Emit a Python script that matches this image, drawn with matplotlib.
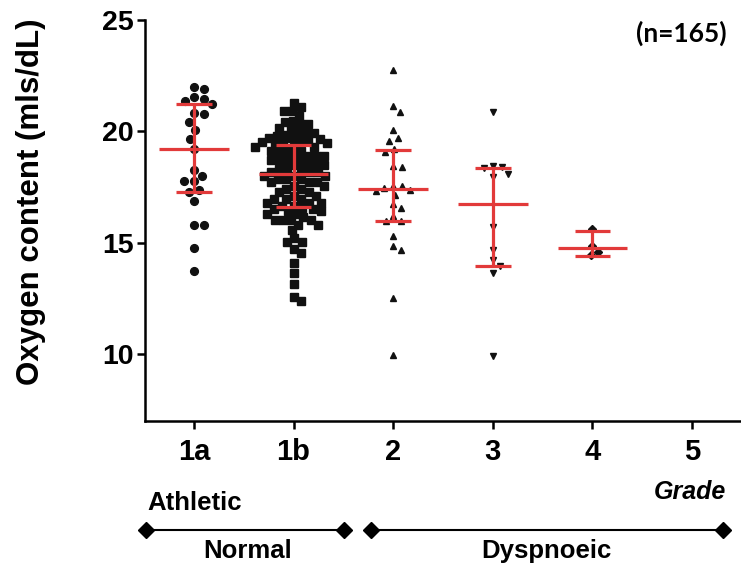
import numpy as np
import matplotlib
matplotlib.use('agg')
import matplotlib.pyplot as plt
from matplotlib.lines import Line2D

plt.rcParams['font.family'] = ['Liberation Sans', 'DejaVu Sans']
plt.rcParams['font.weight'] = 'bold'

W, H = 741, 566

# values
grades = ['1a', '1b', '2', '3', '4', '5']
grade_1a = [22.0, 21.9, 21.55, 21.45, 21.35, 21.2, 20.8, 20.75, 20.4, 20.05, 19.65,
            19.2, 18.25, 18.0, 17.75, 17.75, 17.25, 17.35, 16.85, 15.8, 15.8, 14.75, 13.75]
grade_1b = [21.25, 21.1, 20.9, 20.9, 20.7, 20.45, 20.4, 20.3, 20.3, 20.15, 20.1, 19.95,
            19.9, 19.9, 19.85, 19.8, 19.7, 19.7, 19.65, 19.6, 19.55, 19.5, 19.5, 19.45, 19.45,
            19.3, 19.3, 19.3, 19.1, 19.1, 19.1, 19.1, 18.9, 18.9, 18.9, 18.9,
            18.7, 18.7, 18.7, 18.7, 18.5, 18.5, 18.5, 18.5, 18.3, 18.3, 18.3, 18.15, 18.15, 18.15,
            18.0, 18.0, 18.0, 17.85, 17.85, 17.85, 17.7, 17.7, 17.7, 17.55, 17.55, 17.4, 17.4,
            17.25, 17.25, 17.1, 17.1, 16.95, 16.95, 16.95, 16.8, 16.8, 16.8, 16.65, 16.65,
            16.55, 16.5, 16.5, 16.4, 16.4, 16.3, 16.3, 16.15, 16.0, 16.0, 16.0, 16.0,
            15.8, 15.8, 15.55, 15.2, 15.05, 15.05, 14.7, 14.55, 14.1, 13.65, 13.15, 12.55, 12.4]
grade_2 = [22.75, 21.15, 20.85, 20.05, 19.7, 19.55, 19.2, 19.05, 18.45, 18.4, 17.55, 17.55,
           17.45, 17.35, 17.3, 17.15, 16.75, 16.55, 16.2, 15.95, 15.95, 15.3, 14.85, 14.65,
           12.5, 9.95]
grade_3 = [20.85, 18.45, 18.4, 18.35, 18.1, 17.95, 15.7, 14.65, 14.2, 13.95, 13.65, 9.9]
grade_4 = [15.6, 14.85, 14.6, 14.45]
medians = [19.2, 18.1, 17.4, 16.75, 14.75]
q1 = [17.25, 16.6, 15.95, 13.95, 14.4]
q3 = [21.2, 19.4, 19.15, 18.35, 15.5]

groups = [grade_1a, grade_1b, grade_2, grade_3, grade_4]
markers = ['o', 's', '^', 'v', 'D']
sizes = [5.6, 5.6, 4.8, 4.8, 3.6]
spacing = [10.0, 8.0, 9.0, 9.0, 8.0]

fig = plt.figure(figsize=(W / 100, H / 100), dpi=100)
left, right, top, bottom = 145, 741, 19.7, 421
ax = fig.add_axes([left / W, 1 - bottom / H, (right - left) / W, (bottom - top) / H])
ax.set_xlim(-0.49, 5.49)
ax.set_ylim(7, 25)
px_x = (right - left) / (5.49 + 0.49)
px_y = (bottom - top) / 18.0


def swarm(values, dmin):
    vals = np.asarray(values, float)
    ys = vals * px_y
    cands = [0.0]
    for k in range(1, 120):
        cands += [k * 0.5, -k * 0.5]
    offs = np.zeros(len(vals))
    placed = []
    for i in np.argsort(-vals):
        for c in cands:
            if all((c - ox) ** 2 + (ys[i] - oy) ** 2 >= dmin ** 2 for ox, oy in placed):
                break
        placed.append((c, ys[i]))
        offs[i] = c
    return offs / px_x


for i, vals in enumerate(groups):
    xs = i + swarm(vals, spacing[i])
    ax.plot(xs, vals, linestyle='none', marker=markers[i], ms=sizes[i],
            color='#111111', mec='#111111', zorder=2)

red = '#e23a3a'
pos = np.arange(len(medians))
ax.hlines(medians, pos - 0.35, pos + 0.35, color=red, lw=2.3, zorder=3)
ax.hlines(q1, pos - 0.18, pos + 0.18, color=red, lw=2.3, zorder=3)
ax.hlines(q3, pos - 0.18, pos + 0.18, color=red, lw=2.3, zorder=3)
ax.vlines(pos, q1, q3, color=red, lw=2.3, zorder=3)

for s in ['top', 'right']:
    ax.spines[s].set_visible(False)
for s in ['left', 'bottom']:
    ax.spines[s].set_linewidth(1.8)
ax.set_yticks([10, 15, 20, 25])
ax.set_xticks(np.arange(len(grades)))
ax.set_xticklabels(grades)
ax.tick_params(axis='both', direction='out', length=6, width=1.8)
ax.tick_params(axis='y', labelsize=20.5, pad=2)
ax.tick_params(axis='x', labelsize=21, pad=6)

fig.text(31 / W, 1 - 202 / H, 'Oxygen content (mls/dL)', rotation=90,
         ha='center', va='center', fontsize=22.5)
fig.text(681 / W, 1 - 33 / H, '(n=165)', ha='center', va='center',
         fontsize=19, family=['Lato', 'DejaVu Sans'])


def fx(x):
    return x / W


def fy(y):
    return 1 - y / H


fig.text(fx(147), fy(503), 'Athletic', ha='left', va='center', fontsize=18.5)
fig.text(fx(690), fy(492), 'Grade', ha='center', va='center', fontsize=18, style='italic')
fig.text(fx(248), fy(551), 'Normal', ha='center', va='center', fontsize=18.5)
fig.text(fx(546), fy(551), 'Dyspnoeic', ha='center', va='center', fontsize=18.5)
for x0, x1 in [(146, 344), (371, 723)]:
    fig.add_artist(Line2D([fx(x0), fx(x1)], [fy(530), fy(530)], transform=fig.transFigure,
                          color='black', lw=1.5, marker='D', ms=8, markevery=[0, 1]))

fig.savefig('out.png', dpi=100)
